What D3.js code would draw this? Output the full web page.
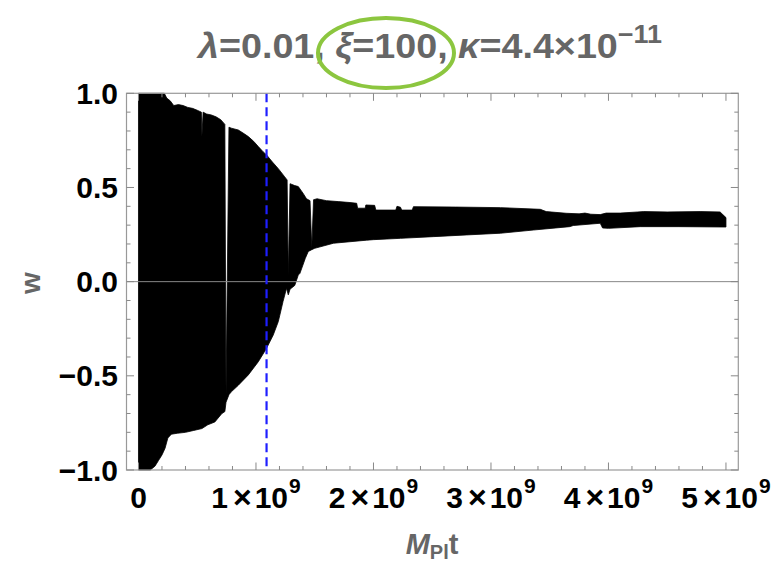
<!DOCTYPE html>
<html><head><meta charset="utf-8">
<script src="https://cdn.jsdelivr.net/npm/d3@7"></script>
<style>html,body{margin:0;padding:0;background:#fff;}svg{display:block;}</style>
</head><body>
<svg id="chart" width="782" height="563"></svg>
<script>
// Time in units of 10^9 (M_Pl t)
const upperT = [0.0,0.22,0.24,0.27,0.30,0.34,0.38,0.42,0.46,0.50,0.535,0.54,0.55,0.58,0.62,0.66,0.70,0.735,0.745,0.77,0.79,0.85,0.90,0.935,0.98,1.02,1.06,1.09,1.14,1.19,1.24,1.265,1.275,1.29,1.33,1.36,1.40,1.43,1.46,1.475,1.49,1.52,1.60,1.70,1.80,1.857,1.865,1.93,1.935,2.01,2.02,2.19,2.20,2.23,2.24,2.33,2.34,2.70,3.08,3.42,3.47,3.64,3.75,3.80,3.85,3.93,3.98,4.10,4.25,4.30,4.50,4.78,4.95,5.0];
const upperW = [1.0,1.0,0.975,0.96,0.935,0.94,0.935,0.925,0.92,0.91,0.90,0.77,0.90,0.89,0.885,0.875,0.86,0.835,-0.60,0.82,0.815,0.805,0.785,0.77,0.745,0.717,0.69,0.673,0.635,0.60,0.56,0.54,0.03,0.52,0.51,0.505,0.47,0.44,0.43,0.18,0.435,0.44,0.43,0.425,0.42,0.416,0.39,0.39,0.407,0.405,0.38,0.38,0.40,0.395,0.38,0.38,0.398,0.396,0.393,0.384,0.372,0.363,0.36,0.364,0.358,0.356,0.364,0.364,0.37,0.372,0.37,0.372,0.37,0.34];
const lowerT = [0.0,0.10,0.14,0.17,0.20,0.226,0.25,0.28,0.33,0.40,0.47,0.54,0.59,0.65,0.71,0.735,0.745,0.77,0.79,0.85,0.935,1.02,1.09,1.147,1.19,1.23,1.26,1.275,1.29,1.33,1.36,1.374,1.42,1.445,1.475,1.50,1.66,1.94,2.0,2.23,2.51,2.79,3.08,3.36,3.67,3.70,3.93,3.95,4.0,4.27,4.6,5.0];
const lowerW = [-1.0,-1.0,-0.98,-0.95,-0.92,-0.885,-0.83,-0.81,-0.805,-0.80,-0.79,-0.78,-0.76,-0.745,-0.70,-0.69,-0.64,-0.60,-0.585,-0.55,-0.495,-0.425,-0.354,-0.283,-0.212,-0.106,-0.035,-0.07,-0.04,-0.02,0.035,0.044,0.124,0.16,0.17,0.177,0.204,0.22,0.223,0.23,0.239,0.248,0.257,0.274,0.292,0.298,0.31,0.285,0.283,0.292,0.292,0.29];
const markerT = 1.09;
const xTicks = [0,1,2,3,4,5];
const xTickLabels = ["0","1","2","3","4","5"];
const yTicks = [-1.0,-0.5,0.0,0.5,1.0];
const yTickLabels = ["\u22121.0","\u22120.5","0.0","0.5","1.0"];

const svg = d3.select("#chart");
const L = 126.5, R = 738.3, T = 93.3, B = 470;
const x = d3.scaleLinear().domain([-0.102, 5.105]).range([L, R]);
const y = d3.scaleLinear().domain([-1, 1]).range([B, T]);
const gray = "#666";
const frameCol = "#999";

// filled oscillation envelope
const pts = upperT.map((t,i)=>[t, upperW[i]]).concat(lowerT.map((t,i)=>[t, lowerW[i]]).reverse());
const line = d3.line().x(d=>x(d[0])).y(d=>y(d[1]));
svg.append("path").attr("d", line(pts) + "Z").attr("fill", "#000").attr("stroke", "#000").attr("stroke-width", 0.8).attr("stroke-linejoin","miter");

// zero line
svg.append("line").attr("x1", L).attr("x2", R).attr("y1", y(0)).attr("y2", y(0)).attr("stroke", "#888").attr("stroke-width", 1);

// dashed marker
svg.append("line").attr("x1", x(markerT)).attr("x2", x(markerT)).attr("y1", T).attr("y2", B)
  .attr("stroke", "#1f1fff").attr("stroke-width", 2.2).attr("stroke-dasharray", "9,5");

// frame
svg.append("rect").attr("x", L).attr("y", T).attr("width", R-L).attr("height", B-T).attr("fill","none").attr("stroke", frameCol).attr("stroke-width", 1.2);

// ticks (inward, all four sides)
const g = svg.append("g").attr("stroke", "#888").attr("stroke-width", 1);
const xMinor = d3.range(0, 5.01, 0.2);
xMinor.forEach(v=>{
  const major = Math.abs(v - Math.round(v)) < 1e-6;
  const len = major ? 7.5 : 4;
  g.append("line").attr("x1", x(v)).attr("x2", x(v)).attr("y1", B).attr("y2", B-len);
  g.append("line").attr("x1", x(v)).attr("x2", x(v)).attr("y1", T).attr("y2", T+len);
});
const yMinor = d3.range(-1, 1.001, 0.1);
yMinor.forEach(v=>{
  const major = Math.abs(v*2 - Math.round(v*2)) < 1e-6;
  const len = major ? 7.5 : 4;
  g.append("line").attr("y1", y(v)).attr("y2", y(v)).attr("x1", L).attr("x2", L+len);
  g.append("line").attr("y1", y(v)).attr("y2", y(v)).attr("x1", R).attr("x2", R-len);
});

const font = "'Liberation Sans', Arial, sans-serif";
// y tick labels
yTicks.forEach((v,i)=>{
  svg.append("text").attr("x", 118).attr("y", y(v) + 10.5).attr("text-anchor","end")
    .attr("font-family", font).attr("font-weight","bold").attr("font-size", 30).attr("fill","#000")
    .text(yTickLabels[i]);
});
// x tick labels
xTicks.forEach((v,i)=>{
  const t = svg.append("text").attr("x", x(v)).attr("y", 508).attr("text-anchor","middle")
    .attr("font-family", font).attr("font-weight","bold").attr("font-size", 30).attr("fill","#000");
  if (v === 0) { t.text("0"); return; }
  t.append("tspan").text(xTickLabels[i]);
  t.append("tspan").attr("font-size", 32).attr("dx", 5).text("\u00d7");
  t.append("tspan").attr("dx", 3).text("10");
  t.append("tspan").attr("font-size", 21).attr("dx", 1).attr("dy", -15).text("9");
});

// axis labels
svg.append("text").attr("transform", "translate(40,283) rotate(-90)").attr("text-anchor","middle")
  .attr("font-family", font).attr("font-weight","bold").attr("font-size", 28).attr("fill", gray).text("w");
const xl = svg.append("text").attr("x", 432).attr("y", 554).attr("text-anchor","middle")
  .attr("font-family", font).attr("font-weight","bold").attr("font-size", 29).attr("fill", gray);
xl.append("tspan").attr("font-style","italic").text("M");
xl.append("tspan").attr("font-size", 20).attr("dy", 5).text("Pl");
xl.append("tspan").attr("dy", -5).text("t");

// title
const tt = svg.append("text").attr("x", 198).attr("y", 58).attr("text-anchor","start")
  .attr("font-family", font).attr("font-weight","bold").attr("font-size", 35).attr("fill", gray)
  .attr("textLength", 464).attr("lengthAdjust", "spacingAndGlyphs");
tt.append("tspan").attr("font-style","italic").text("\u03bb");
tt.append("tspan").text("=0.01, ");
tt.append("tspan").attr("font-style","italic").text("\u03be");
tt.append("tspan").text("=100, ");
tt.append("tspan").attr("font-style","italic").text("\u03ba");
tt.append("tspan").text("=4.4\u00d710");
tt.append("tspan").attr("font-size", 25).attr("dy", -15).text("\u221211");

// highlight ellipse
svg.append("ellipse").attr("cx", 386).attr("cy", 53).attr("rx", 68).attr("ry", 35)
  .attr("fill","none").attr("stroke", "#8cc63f").attr("stroke-width", 4);
</script>
</body></html>
